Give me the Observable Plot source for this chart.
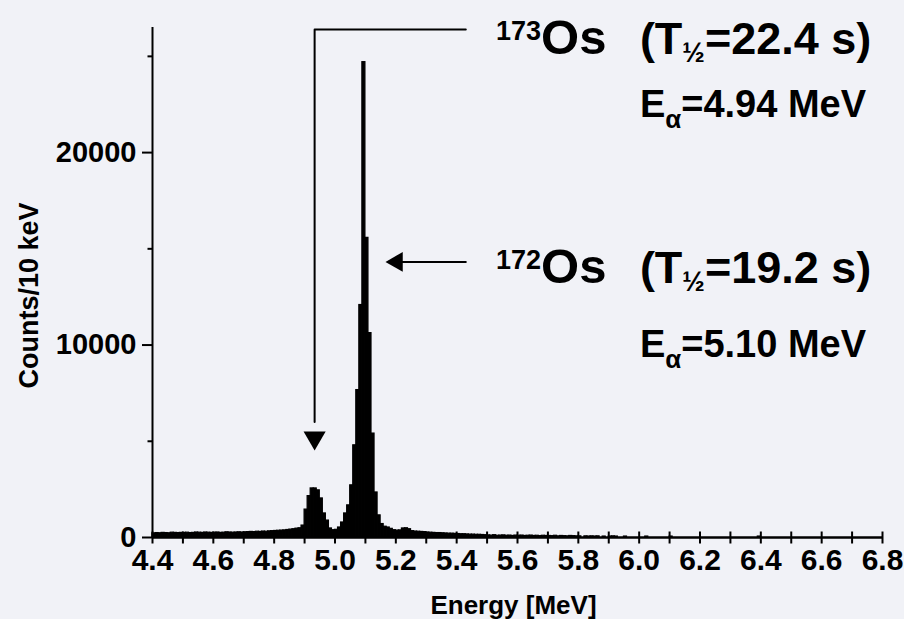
<!DOCTYPE html>
<html><head><meta charset="utf-8">
<script src="https://cdn.jsdelivr.net/npm/d3@7"></script>
<script src="https://cdn.jsdelivr.net/npm/@observablehq/plot@0.6"></script>
<style>html,body{margin:0;padding:0;background:#f1f2f7;}</style>
</head><body><div id="chart"></div>
<script>
// Histogram: 10 keV bins starting at 4.40 MeV
const binStart = 4.40;
const binWidth = 0.01;
const counts = [
  210, 230, 220, 240, 230, 220, 250, 240, 230, 240,   // 4.40
  240, 250, 230, 240, 260, 250, 240, 260, 250, 240,   // 4.50
  250, 260, 240, 250, 270, 260, 250, 260, 270, 260,   // 4.60
  270, 280, 290, 280, 300, 290, 310, 300, 320, 330,   // 4.70
  340, 350, 360, 370, 390, 410, 430, 460, 480, 620,   // 4.80
  1450, 2150, 2550, 2550, 2450, 2030, 1250, 880, 470, 380, // 4.90
  400, 520, 780, 1250, 1670, 2710, 4790, 7660, 12080, 24700, // 5.00
  15570, 10620, 5400, 2340, 1150, 700, 560, 520, 450, 380, // 5.10
  360, 370, 470, 480, 430, 330, 310, 300, 290, 280,   // 5.20
  260, 250, 240, 230, 230, 220, 210, 200, 200, 190,   // 5.30
  180, 170, 170, 160, 150, 150, 140, 140, 130, 120,   // 5.40
  110, 100, 120, 90, 100, 110, 90, 100, 80, 100,      // 5.50
  90, 100, 80, 90, 100, 80, 90, 70, 90, 80,           // 5.60
  80, 70, 90, 60, 80, 70, 60, 80, 70, 60,             // 5.70
  60, 0, 60, 50, 60, 50, 60, 0, 50, 0,                // 5.80
  50, 60, 50, 0, 0, 50, 0, 0, 0, 0                    // 5.90
];
const sparseEnergies = [6.02, 6.10, 6.39];
const sparseCounts = [50, 50, 50];

const xTicks = [4.4,4.5,4.6,4.7,4.8,4.9,5.0,5.1,5.2,5.3,5.4,5.5,5.6,5.7,5.8,5.9,6.0,6.1,6.2,6.3,6.4,6.5,6.6,6.7,6.8];
const xTickLabels = [4.4,4.6,4.8,5.0,5.2,5.4,5.6,5.8,6.0,6.2,6.4,6.6,6.8];
const yTickLabels = [0, 10000, 20000];
const yMinorTicks = [5000, 15000, 25000];

const xLabel = "Energy [MeV]";
const yLabel = "Counts/10 keV";

// Annotations (data coordinates)
const isotopes = ["173", "172"];
const halfLives = ["22.4", "19.2"];
const alphaEnergies = ["4.94", "5.10"];
const arrow173 = [{x: 5.43, y: 26400}, {x: 4.933, y: 26400}, {x: 4.933, y: 6000}];
const arrow173Tip = [{x: 4.933, y: 4520}];
const arrow172 = [{x: 5.43, y: 14320}, {x: 5.19, y: 14320}];
const arrow172Tip = [{x: 5.166, y: 14320}];
const labelX = {iso: 5.531, info: 6.004};
const labelY = {row1: 25100, row2: 21800, row3: 13200, row4: 9350};

const bins = counts.map((c, i) => ({lo: binStart + i * binWidth, hi: binStart + (i + 1) * binWidth, c}))
  .concat(sparseEnergies.map((e, i) => ({lo: e, hi: e + binWidth, c: sparseCounts[i]})))
  .filter(d => d.c > 0);

const FONT = "'Liberation Sans', Arial, Helvetica, sans-serif";
const vTick = {draw(ctx) { ctx.moveTo(0, -6); ctx.lineTo(0, 6); }};
const hMinor = {draw(ctx) { ctx.moveTo(-5, 0); ctx.lineTo(0, 0); }};

const plot = Plot.plot({
  width: 904,
  height: 619,
  marginLeft: 152,
  marginRight: 22,
  marginTop: 27,
  marginBottom: 82,
  style: {background: "#f1f2f7", fontFamily: FONT, fontWeight: "bold", color: "black"},
  x: {domain: [4.4, 6.8]},
  y: {domain: [0, 26500]},
  marks: [
    Plot.rectY(bins, {x1: "lo", x2: "hi", y: "c", fill: "black", stroke: "black", strokeWidth: 1.2}),
    Plot.ruleY([0], {stroke: "black", strokeWidth: 2.5}),
    Plot.ruleX([4.4], {stroke: "black", strokeWidth: 2}),
    Plot.dot(xTicks, {x: d => d, y: () => 0, symbol: vTick, stroke: "black", fill: "none", strokeWidth: 2}),
    Plot.dot(yMinorTicks, {x: () => 4.4, y: d => d, symbol: hMinor, stroke: "black", fill: "none", strokeWidth: 2}),
    Plot.axisX({ticks: xTickLabels, tickSize: 0, tickPadding: 11, fontSize: 30, fontWeight: "bold", label: null, tickFormat: d3.format(".1f")}),
    Plot.axisY({ticks: yTickLabels, tickSize: 10, tickPadding: 6, fontSize: 29, fontWeight: "bold", strokeWidth: 2, label: null, tickFormat: d3.format("d")}),
    Plot.text([xLabel], {frameAnchor: "bottom", dx: -4, dy: 76, lineAnchor: "bottom", textAnchor: "middle", fontSize: 26, fontWeight: "bold"}),
    Plot.text([yLabel], {frameAnchor: "left", dx: -123, dy: 13, rotate: -90, textAnchor: "middle", fontSize: 27, fontWeight: "bold"}),
    Plot.line(arrow173, {x: "x", y: "y", stroke: "black", strokeWidth: 2}),
    Plot.line(arrow172, {x: "x", y: "y", stroke: "black", strokeWidth: 2}),
    Plot.dot(arrow173Tip, {x: "x", y: "y", symbol: "triangle", r: 8.2, rotate: 180, dy: -12.7, fill: "black", stroke: "none"}),
    Plot.dot(arrow172Tip, {x: "x", y: "y", symbol: "triangle", r: 7.4, rotate: -90, dx: 11.5, fill: "black", stroke: "none"})
  ]
});

const svgEl = plot.tagName.toLowerCase() === "svg" ? plot : plot.querySelector("svg");
document.getElementById("chart").appendChild(plot);
const svg = d3.select(svgEl);
const sx = plot.scale("x"), sy = plot.scale("y");

function addLabel(x, y, parts) {
  const t = svg.append("text")
    .attr("x", sx.apply(x)).attr("y", sy.apply(y))
    .attr("text-anchor", "start")
    .attr("font-family", FONT).attr("font-weight", "bold").attr("fill", "black");
  let prev = 0;
  parts.forEach(p => {
    const s = p.shift || 0;
    t.append("tspan").attr("font-size", p.size).attr("dy", s - prev).text(p.text);
    prev = s;
  });
}
const rowsY = [[labelY.row1, labelY.row2], [labelY.row3, labelY.row4]];
isotopes.forEach((iso, i) => {
  const [yA, yB] = rowsY[i];
  addLabel(labelX.iso, yA, [{text: iso, size: 27, shift: -14}, {text: "Os", size: 49, shift: 0}]);
  addLabel(labelX.info, yA, [{text: "(T", size: 45}, {text: "½", size: 27, shift: 8}, {text: "=" + halfLives[i] + " s)", size: 45, shift: 0}]);
  addLabel(labelX.info, yB, [{text: "E", size: 38}, {text: "α", size: 26, shift: 11}, {text: "=" + alphaEnergies[i] + " MeV", size: 38, shift: 0}]);
});
</script>
</body></html>
